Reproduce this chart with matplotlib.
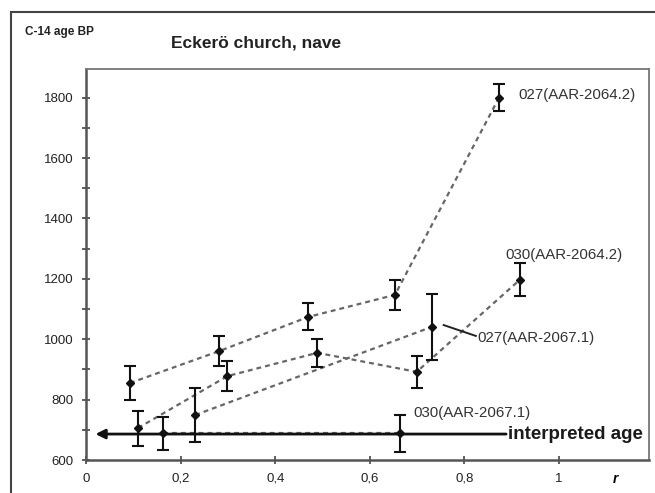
import matplotlib.pyplot as plt
import matplotlib.patches as patches
from matplotlib.ticker import MultipleLocator, FixedLocator

plt.rcParams['font.family'] = ['Liberation Sans', 'DejaVu Sans']

# samples: fraction r vs C-14 age BP, with error
r_027_2064 = [0.093, 0.282, 0.470, 0.653, 0.873]
age_027_2064 = [855, 961, 1074, 1147, 1800]
err_027_2064 = [55, 50, 45, 50, 45]

r_030_2064 = [0.110, 0.299, 0.489, 0.699, 0.917]
age_030_2064 = [706, 878, 955, 892, 1197]
err_030_2064 = [58, 50, 46, 54, 54]

r_027_2067 = [0.231, 0.731]
age_027_2067 = [749, 1041]
err_027_2067 = [88, 110]

r_030_2067 = [0.163, 0.663]
age_030_2067 = [688, 688]
err_030_2067 = [55, 62]

interpreted_age = 686

xticks = [0, 0.2, 0.4, 0.6, 0.8, 1.0]
xticklabels = ["0", "0,2", "0,4", "0,6", "0,8", "1"]

fig = plt.figure(figsize=(6.55, 4.93), dpi=100)
fig.patches.append(patches.Rectangle((0.0168, -0.05), 1.2, 0.9757 + 0.05,
                                     transform=fig.transFigure, fill=False,
                                     edgecolor='#444444', lw=1.5))
ax = fig.add_axes([0.1313, 0.0669, 0.9908 - 0.1313, 0.860 - 0.0669])

series = [
    (r_027_2064, age_027_2064, err_027_2064),
    (r_030_2064, age_030_2064, err_030_2064),
    (r_027_2067, age_027_2067, err_027_2067),
    (r_030_2067, age_030_2067, err_030_2067),
]

# interpreted age line with arrow
ax.annotate("", xy=(0.02, interpreted_age), xytext=(0.888, interpreted_age),
            arrowprops=dict(arrowstyle='-|>', color='#111111', lw=2.0,
                            mutation_scale=14, shrinkA=0, shrinkB=0))
ax.text(0.891, interpreted_age, "interpreted age", fontsize=13.5, fontweight='bold',
        va='center', ha='left', color='#1a1a1a')

for xs, ys, es in series:
    ax.plot(xs, ys, linestyle=(0, (2.2, 1.8)), color='#666666', lw=1.6, zorder=2)
    ax.errorbar(xs, ys, yerr=es, fmt='D', color='#111111', ms=4.5,
                elinewidth=1.5, capsize=4.5, capthick=1.5, zorder=3)

lab_size = 10.8
ax.text(0.913, 1810, "027(AAR-2064.2)", fontsize=lab_size, va='center', color='#333333')
ax.text(0.886, 1279, "030(AAR-2064.2)", fontsize=lab_size, va='center', color='#333333')
ax.text(0.828, 1004, "027(AAR-2067.1)", fontsize=lab_size, va='center', color='#333333')
ax.text(0.693, 756, "030(AAR-2067.1)", fontsize=lab_size, va='center', color='#333333')
ax.plot([0.756, 0.824], [1047, 1011], color='#222222', lw=1.4)

ax.set_xlim(0, 1.19)
ax.set_ylim(600, 1895)
ax.xaxis.set_major_locator(FixedLocator(xticks))
ax.set_xticklabels(xticklabels)
ax.yaxis.set_major_locator(MultipleLocator(200))
ax.yaxis.set_minor_locator(MultipleLocator(100))
ax.tick_params(axis='both', which='both', direction='inout', colors='#444444',
               labelcolor='#222222', labelsize=9.5)
ax.tick_params(axis='both', which='major', length=6, width=1.2)
ax.tick_params(axis='y', which='minor', length=6, width=1.2)
ax.tick_params(axis='x', pad=6)
ax.tick_params(axis='y', pad=6)
for side in ['left', 'bottom']:
    ax.spines[side].set_linewidth(1.8)
    ax.spines[side].set_color('#555555')
for side in ['top', 'right']:
    ax.spines[side].set_linewidth(1.3)
    ax.spines[side].set_color('#777777')

ax.text(1.12, 560, "r", fontsize=10, fontweight='bold', fontstyle='italic',
        ha='center', va='top', clip_on=False)

fig.text(0.391, 0.913, "Eckerö church, nave", fontsize=12.5, fontweight='bold',
         ha='center', va='center', color='#222222')
fig.text(0.038, 0.935, "C-14 age BP", fontsize=8.5, fontweight='bold',
         ha='left', va='center', color='#222222')

fig.savefig("out.png", dpi=100)
